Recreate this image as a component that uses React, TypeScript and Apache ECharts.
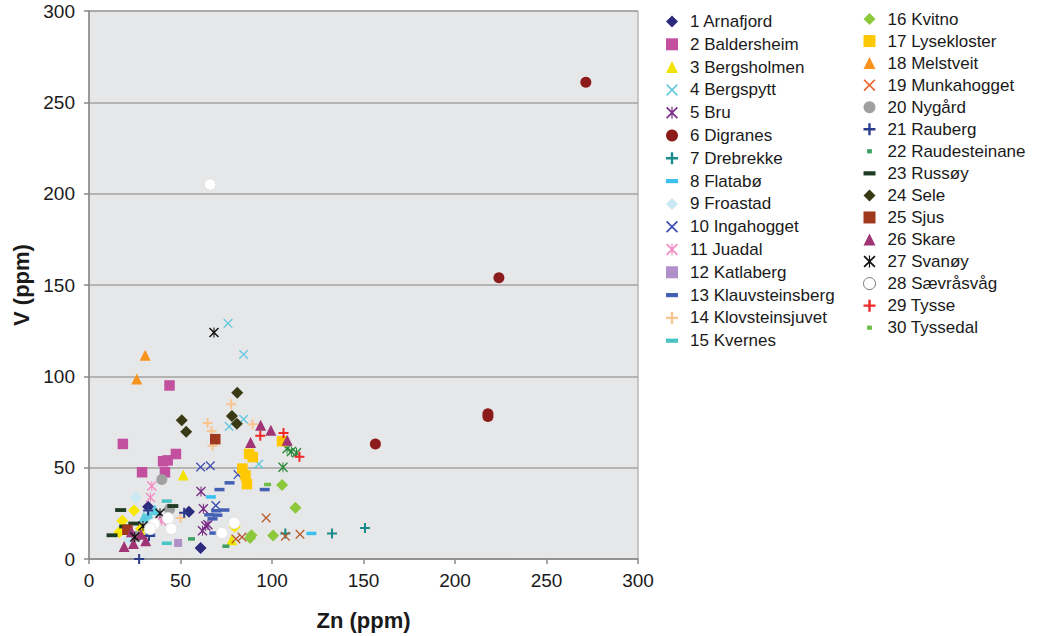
import React, { useEffect, useRef } from "react";
import * as echarts from "echarts";

// ---- data (Zn ppm, V ppm) ----
const arnafjord = [[54.6, 25.9], [61, 6], [32.3, 28.6]];
const baldersheim = [[18.5, 63], [44, 95], [29, 47.5], [41.5, 47.5], [40.5, 53.5], [43, 54], [47.5, 57.5]];
const bergsholmen = [[51.5, 46], [78, 10.5], [29, 14]];
const bergspytt = [[76, 129], [84.5, 112], [84.5, 76.5], [76.6, 72.5], [92.8, 52]];
const bru = [[61.2, 37], [62.5, 27.5], [63.8, 18], [62, 15.5], [65, 18.8]];
const digranes = [[271.5, 261], [224, 154], [218, 79.5], [218, 78], [156.5, 63]];
const drebrekke = [[107.3, 14], [132.8, 14], [150.8, 17]];
const flatabo = [[66.6, 34], [121.5, 14]];
const froastad = [[25.5, 33.7], [22, 10.5]];
const ingahogget = [[61, 50.3], [66.3, 51], [81.4, 46.2], [69.3, 29.3]];
const juadal = [[34.3, 40], [33.6, 33.6], [39.5, 20.8]];
const katlaberg = [[48.7, 8.8]];
const klauvsteinsberg = [[76.8, 41.7], [71.3, 38], [96, 38], [69.5, 26.4], [74, 26.8], [65.7, 24.2], [70.2, 24], [67.5, 22], [68.5, 14.2], [33.5, 13]];
const klovsteinsjuvet = [[77.7, 84.7], [64.8, 74.5], [67, 70], [67.5, 62], [89.4, 73.8], [50, 22.5]];
const kvernes = [[42.5, 31.7], [42.5, 8.6]];
const kvitno = [[105.5, 40.5], [112.8, 28], [88.8, 13], [88, 11.5], [100.6, 12.8]];
const lysekloster = [[87.5, 57.5], [89.5, 55.8], [83.8, 49.5], [85.5, 45.8], [86.3, 41], [105.5, 64.5]];
const melstveit = [[30.7, 111.5], [26.1, 98.5]];
const munkahogget = [[96.8, 22.5], [107.3, 12.5], [115.3, 13.5], [80.3, 11], [83.6, 12]];
const nygard = [[39.8, 43.5], [44, 27.3], [26, 12.5]];
const rauberg = [[27.4, 0], [32.8, 12.6], [32.3, 26.6], [52, 25.3]];
const raudesteinane = [[56, 11], [74.8, 7]];
const russoy = [[17.3, 26.8], [12.6, 13], [45.8, 29], [24.5, 19.4], [19.5, 17.8]];
const sele = [[81, 91], [50.7, 76], [53.1, 69.6], [78.1, 78.3], [80.8, 74]];
const sjus = [[69, 65.6], [21, 16]];
const skare = [[93.8, 73.2], [88.3, 63.8], [99.4, 70.5], [108.3, 65], [23.2, 14.9], [28.3, 13.6], [19.2, 6.8], [24.3, 8.5], [31, 10]];
const svanoy = [[68.3, 124], [38.8, 25], [29.5, 18], [25, 12]];
const saevrasvag = [[66.2, 205], [43.3, 22.3], [45, 16.5], [35.6, 19], [33.5, 16.5], [79.4, 19.8], [72.6, 14.2]];
const tysse = [[93.6, 67.5], [106.3, 69], [115, 56]];
const tyssedal = [[97.6, 40.8]];
// unlabelled marks visible in the plot
const yellowDiamonds = [[24.6, 26.6], [18.2, 21], [16.6, 14.6], [28.5, 16.6], [79.6, 17.6]];
const cyanTriangles = [[36, 27], [30, 23], [32.5, 24.5]];
const greenStars = [[108.2, 60.3], [110.6, 58.8], [113.4, 58.2], [106, 50.2]];

const xTicks = [0, 50, 100, 150, 200, 250, 300];
const yTicks = [0, 50, 100, 150, 200, 250, 300];

const PLUS = "path://M8,0H12V8H20V12H12V20H8V12H0V8H8Z";
const CROSS = "path://M0,2L2,0L10,8L18,0L20,2L12,10L20,18L18,20L10,12L2,20L0,18L8,10Z";
const STAR = "path://M0,2L2,0L10,8L18,0L20,2L12,10L20,18L18,20L10,12L2,20L0,18L8,10ZM9,0H11V20H9Z";
const DASH = "path://M0,0H20V7H0Z";
const SDASH = "path://M0,0H14V7H0Z";
const SDASH_ICON = "path://M0,3.5L0,3.5M20,3.5L20,3.5M6,0H14V7H6Z";

type S = { name: string; data: number[][]; symbol: string; size: number; color: string; border?: string };

const sites: S[] = [
  { name: "1 Arnafjord", data: arnafjord, symbol: "diamond", size: 12, color: "#2b2a7c" },
  { name: "2 Baldersheim", data: baldersheim, symbol: "rect", size: 10.5, color: "#c2509e" },
  { name: "3 Bergsholmen", data: bergsholmen, symbol: "triangle", size: 11, color: "#f2e400" },
  { name: "4 Bergspytt", data: bergspytt, symbol: CROSS, size: 9.5, color: "#62c8e0" },
  { name: "5 Bru", data: bru, symbol: STAR, size: 10, color: "#7a2e88" },
  { name: "6 Digranes", data: digranes, symbol: "circle", size: 11, color: "#8c1c1c" },
  { name: "7 Drebrekke", data: drebrekke, symbol: PLUS, size: 10, color: "#1a8a8a" },
  { name: "8 Flatabø", data: flatabo, symbol: DASH, size: 10, color: "#38c0f0" },
  { name: "9 Froastad", data: froastad, symbol: "diamond", size: 12, color: "#c8e8f4" },
  { name: "10 Ingahogget", data: ingahogget, symbol: CROSS, size: 9.5, color: "#3c4cb0" },
  { name: "11 Juadal", data: juadal, symbol: STAR, size: 10, color: "#f48cc4" },
  { name: "12 Katlaberg", data: katlaberg, symbol: "rect", size: 8, color: "#b090c8" },
  { name: "13 Klauvsteinsberg", data: klauvsteinsberg, symbol: DASH, size: 10, color: "#4460b4" },
  { name: "14 Klovsteinsjuvet", data: klovsteinsjuvet, symbol: PLUS, size: 10, color: "#f8c490" },
  { name: "15 Kvernes", data: kvernes, symbol: DASH, size: 10, color: "#48c4c4" },
  { name: "16 Kvitno", data: kvitno, symbol: "diamond", size: 12, color: "#8cc83c" },
  { name: "17 Lysekloster", data: lysekloster, symbol: "rect", size: 10.5, color: "#ffc800" },
  { name: "18 Melstveit", data: melstveit, symbol: "triangle", size: 11, color: "#f7931e" },
  { name: "19 Munkahogget", data: munkahogget, symbol: CROSS, size: 9.5, color: "#b45a2c" },
  { name: "20 Nygård", data: nygard, symbol: "circle", size: 11, color: "#a0a0a0" },
  { name: "21 Rauberg", data: rauberg, symbol: PLUS, size: 10, color: "#2c3c8c" },
  { name: "22 Raudesteinane", data: raudesteinane, symbol: SDASH, size: 7, color: "#3ca060" },
  { name: "23 Russøy", data: russoy, symbol: DASH, size: 11, color: "#1e3c24" },
  { name: "24 Sele", data: sele, symbol: "diamond", size: 12, color: "#383a14" },
  { name: "25 Sjus", data: sjus, symbol: "rect", size: 10.5, color: "#a0381e" },
  { name: "26 Skare", data: skare, symbol: "triangle", size: 11, color: "#a03474" },
  { name: "27 Svanøy", data: svanoy, symbol: STAR, size: 10, color: "#111111" },
  { name: "28 Sævråsvåg", data: saevrasvag, symbol: "circle", size: 11.5, color: "#ffffff", border: "#e2e2e2" },
  { name: "29 Tysse", data: tysse, symbol: PLUS, size: 10, color: "#f02828" },
  { name: "30 Tyssedal", data: tyssedal, symbol: SDASH, size: 7, color: "#6cbc48" },
];

const extras: S[] = [
  { name: "yellow-diamond", data: yellowDiamonds, symbol: "diamond", size: 12, color: "#f8e800" },
  { name: "cyan-triangle", data: cyanTriangles, symbol: "triangle", size: 11, color: "#5ccce0" },
  { name: "green-star", data: greenStars, symbol: STAR, size: 10, color: "#2a8a3a" },
];

const FONT = "'Liberation Sans', Arial, Helvetica, sans-serif";

function legendItem(s: S) {
  const item: any = { name: s.name };
  if (s.name === "19 Munkahogget") item.itemStyle = { color: "#f06428" };
  if (s.name === "28 Sævråsvåg") item.itemStyle = { color: "#ffffff", borderColor: "#777777", borderWidth: 1 };
  if (s.symbol === SDASH) item.icon = SDASH_ICON;
  return item;
}

export default function App() {
  const ref = useRef<HTMLDivElement>(null);
  useEffect(() => {
    if (!ref.current) return;
    const chart = echarts.init(ref.current, undefined, { renderer: "svg" });
    const all = [...sites.slice(0, 13), ...extras, ...sites.slice(13)];
    const series = all.map((s) => ({
      type: "scatter",
      name: s.name,
      data: s.data,
      symbol: s.symbol,
      symbolSize: s.size,
      symbolKeepAspect: true,
      itemStyle: {
        color: s.color,
        opacity: 1,
        borderColor: s.border || s.color,
        borderWidth: s.border ? 1 : 0,
      },
      emphasis: { disabled: true },
    }));
    const legendBase = {
      orient: "vertical",
      itemWidth: 12,
      itemHeight: 12,
      padding: 0,
      selectedMode: false,
      textStyle: { fontSize: 17, fontFamily: FONT, color: "#1a1a1a", lineHeight: 18, padding: [0, 0, 0, 7] },
    };
    chart.setOption({
      animation: false,
      backgroundColor: "#ffffff",
      grid: {
        left: 89,
        top: 11,
        width: 549,
        height: 550,
        show: true,
        backgroundColor: "#e6e7e9",
        borderColor: "#9a9a9a",
        borderWidth: 1,
      },
      legend: [
        { ...legendBase, left: 666, top: 12.5, itemGap: 4.8, data: sites.slice(0, 15).map(legendItem) },
        { ...legendBase, left: 863, top: 10, itemGap: 4.05, data: sites.slice(15).map(legendItem) },
      ],
      xAxis: {
        type: "value",
        min: xTicks[0],
        max: xTicks[xTicks.length - 1],
        interval: xTicks[1] - xTicks[0],
        name: "Zn (ppm)",
        nameLocation: "middle",
        nameGap: 50,
        nameTextStyle: { fontSize: 22, fontWeight: "bold", fontFamily: FONT, color: "#1a1a1a" },
        axisLine: { show: true, lineStyle: { color: "#8a8a8a", width: 1.5 } },
        axisTick: { show: true, length: 5, lineStyle: { color: "#8a8a8a", width: 1.5 } },
        axisLabel: { fontSize: 19, fontFamily: FONT, color: "#1a1a1a", margin: 12 },
        splitLine: { show: false },
      },
      yAxis: {
        type: "value",
        min: yTicks[0],
        max: yTicks[yTicks.length - 1],
        interval: yTicks[1] - yTicks[0],
        name: "V (ppm)",
        nameLocation: "middle",
        nameGap: 56,
        nameTextStyle: { fontSize: 22, fontWeight: "bold", fontFamily: FONT, color: "#1a1a1a" },
        axisLine: { show: true, lineStyle: { color: "#8a8a8a", width: 1.5 } },
        axisTick: { show: true, length: 5, lineStyle: { color: "#8a8a8a", width: 1.5 } },
        axisLabel: { fontSize: 19, fontFamily: FONT, color: "#1a1a1a", margin: 14 },
        splitLine: { show: true, lineStyle: { color: "#a3a3a3", width: 1.5 } },
      },
      series,
    });
    return () => chart.dispose();
  }, []);
  return <div ref={ref} style={{ position: "fixed", left: 0, top: 0, width: 1040, height: 636 }} />;
}
